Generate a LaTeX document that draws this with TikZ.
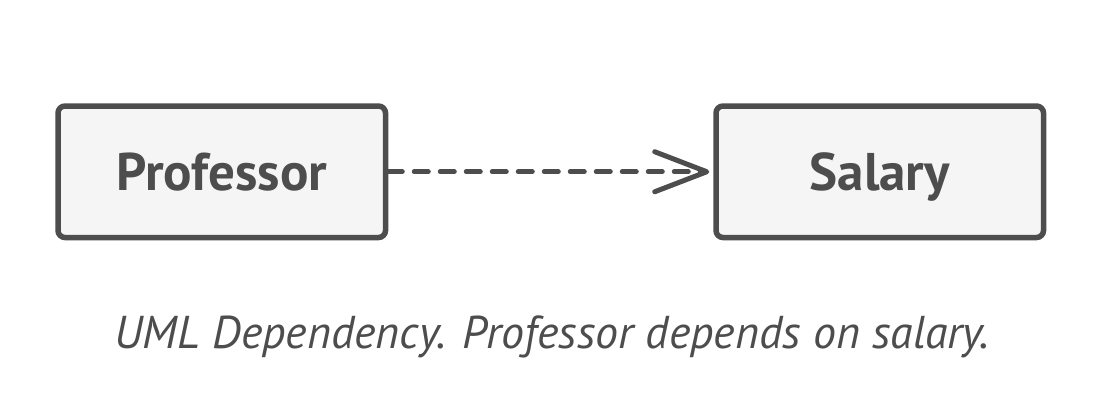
\documentclass[tikz,border=0pt]{standalone}
\usepackage{fontspec}
\setmainfont{PT Sans}
\usetikzlibrary{arrows.meta}
\definecolor{ink}{HTML}{4D4D4D}
\definecolor{boxfill}{HTML}{F5F5F5}
\begin{document}
\begin{tikzpicture}[x=1pt,y=-1pt,
  classbox/.style={draw=ink, fill=boxfill, line width=5.5pt, rounded corners=7pt,
    minimum width=327.5pt, minimum height=131.5pt, inner sep=0pt,
    text height=37pt, text depth=0pt,
    font=\fontsize{53}{60}\selectfont\bfseries, text=ink},
  depends/.style={draw=ink, line width=5pt, line cap=round, dash pattern=on 14pt off 12pt,
    -{Straight Barb[length=52pt, width=40pt, line width=5pt, round]}},
  caption/.style={font=\fontsize{46}{52}\selectfont\itshape, text=ink, inner sep=0pt}]
\useasboundingbox (0,0) rectangle (1118,408);
\node[classbox] (prof) at (221.75,171.75) {Professor};
\node[classbox] (sal) at (879.75,171.75) {Salary};
\draw[depends] (prof.east) -- ([xshift=-4pt]sal.west);
\node[caption, anchor=base] (cap) at (552,348) {UML Dependency. Professor depends on salary.};
\end{tikzpicture}
\end{document}
